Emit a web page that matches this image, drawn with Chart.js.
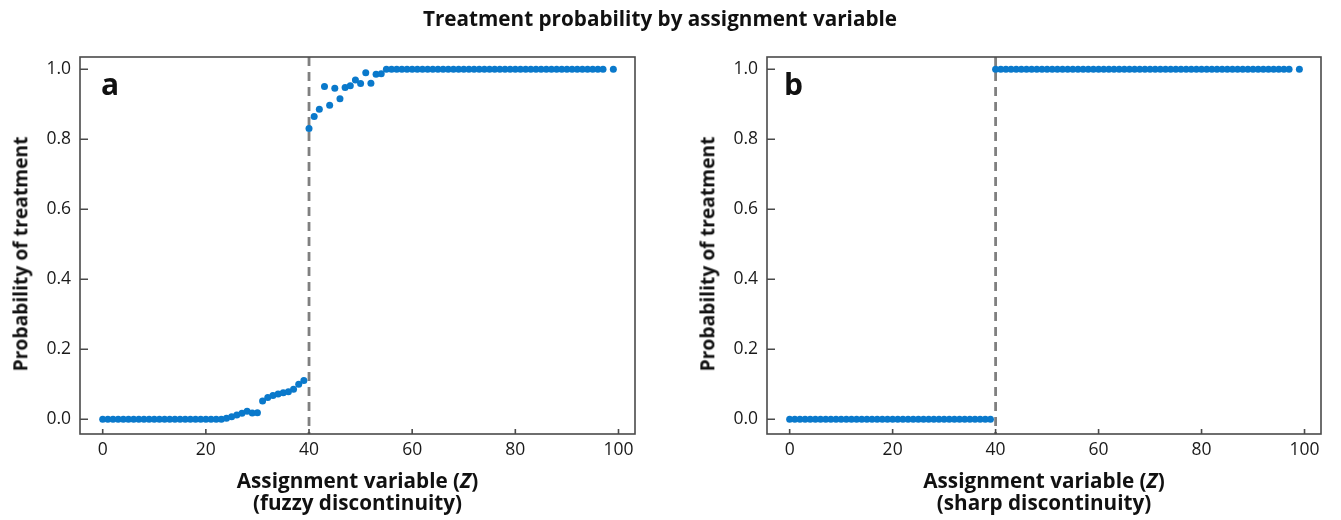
<!DOCTYPE html>
<html><head><meta charset="utf-8">
<script src="https://cdn.jsdelivr.net/npm/chart.js@4.4.1/dist/chart.umd.min.js"></script>
<style>
html,body{margin:0;padding:0;background:#fff;}
body{width:1341px;height:520px;position:relative;overflow:hidden;font-family:"Open Sans",sans-serif;color:#111;}
.panel{position:absolute;top:0;height:520px;}
.lbl{position:absolute;white-space:nowrap;font-weight:700;line-height:1;transform:translate(-50%,-50%);}
.rot{transform:translate(-50%,-50%) rotate(-90deg);}
</style></head><body>
<div class="panel" style="left:0;width:650px"><canvas id="ca"></canvas></div>
<div class="panel" style="left:680px;width:661px"><canvas id="cb"></canvas></div>
<div class="lbl" id="title" style="left:660px;top:18px">Treatment probability by assignment variable</div>
<div class="lbl rot" id="ya" style="left:20px;top:254px">Probability of treatment</div>
<div class="lbl rot" id="yb" style="left:707px;top:254px">Probability of treatment</div>
<div class="lbl" id="xa1" style="left:357.5px;top:480px">Assignment variable (<i>Z</i>)</div>
<div class="lbl" id="xa2" style="left:357.5px;top:502px">(fuzzy discontinuity)</div>
<div class="lbl" id="xb1" style="left:1044px;top:480px">Assignment variable (<i>Z</i>)</div>
<div class="lbl" id="xb2" style="left:1044px;top:502px">(sharp discontinuity)</div>
<script>
// ---- data ----
const zValues = [0,1,2,3,4,5,6,7,8,9,10,11,12,13,14,15,16,17,18,19,
  20,21,22,23,24,25,26,27,28,29,30,31,32,33,34,35,36,37,38,39,
  40,41,42,43,44,45,46,47,48,49,50,51,52,53,54,55,56,57,58,59,
  60,61,62,63,64,65,66,67,68,69,70,71,72,73,74,75,76,77,78,79,
  80,81,82,83,84,85,86,87,88,89,90,91,92,93,94,95,96,97,99];
const probFuzzy = [0,0,0,0,0,0,0,0,0,0,
  0,0,0,0,0,0,0,0,0,0,
  0,0,0,0,0.003,0.007,0.012,0.017,0.023,0.018,
  0.019,0.052,0.062,0.068,0.072,0.076,0.079,0.086,0.100,0.111,
  0.831,0.865,0.886,0.951,0.897,0.946,0.916,0.948,0.953,0.969,
  0.959,0.990,0.960,0.986,0.987,1,1,1,1,1,
  1,1,1,1,1,1,1,1,1,1,
  1,1,1,1,1,1,1,1,1,1,
  1,1,1,1,1,1,1,1,1,1,
  1,1,1,1,1,1,1,1,1];
const probSharp = [0,0,0,0,0,0,0,0,0,0,
  0,0,0,0,0,0,0,0,0,0,
  0,0,0,0,0,0,0,0,0,0,
  0,0,0,0,0,0,0,0,0,0,
  1,1,1,1,1,1,1,1,1,1,
  1,1,1,1,1,1,1,1,1,1,
  1,1,1,1,1,1,1,1,1,1,
  1,1,1,1,1,1,1,1,1,1,
  1,1,1,1,1,1,1,1,1,1,
  1,1,1,1,1,1,1,1,1];
const cutoff = 40;
const xTickValues = [0,20,40,60,80,100];
const yTickValues = [0,0.2,0.4,0.6,0.8,1.0];

// ---- fit label font sizes to reference widths ----
function fit(id, target){
  const el=document.getElementById(id);
  el.style.fontSize='20px';
  const w=el.offsetWidth;
  const s=20*target/w;
  el.style.fontSize=s+'px';
  return s;
}
fit('title',474);
fit('ya',235); fit('yb',235);
const s1=fit('xa1',242);
['xa2','xb1','xb2'].forEach(id=>document.getElementById(id).style.fontSize=s1+'px');

const framePlugin = {
  id:'frame',
  beforeDatasetsDraw(chart, args, opts){
    const {ctx, chartArea:a, scales:{x,y}} = chart;
    ctx.save();
    const cx = x.getPixelForValue(cutoff);
    ctx.strokeStyle='#808080'; ctx.lineWidth=2.8; ctx.setLineDash([9,6]);
    ctx.beginPath(); ctx.moveTo(cx,a.top); ctx.lineTo(cx,a.bottom); ctx.stroke();
    ctx.setLineDash([]);
    ctx.strokeStyle='#4a4a4a'; ctx.lineWidth=1.6;
    ctx.strokeRect(a.left,a.top,a.right-a.left,a.bottom-a.top);
    ctx.beginPath();
    x.ticks.forEach(t=>{const px=x.getPixelForValue(t.value); ctx.moveTo(px,a.bottom); ctx.lineTo(px,a.bottom-5);});
    y.ticks.forEach(t=>{const py=y.getPixelForValue(t.value); ctx.moveTo(a.left,py); ctx.lineTo(a.left+8,py);});
    ctx.stroke();
    ctx.fillStyle='#111'; ctx.font='700 30px "Open Sans"'; ctx.textBaseline='alphabetic'; ctx.textAlign='left';
    ctx.fillText(opts.letter, a.left+opts.lx, a.top+38);
    ctx.restore();
  }
};

function makeChart(id, probs, letter, lx, yWidth, rightPad){
  const pts = zValues.map((z,i)=>({x:z,y:probs[i]}));
  return new Chart(document.getElementById(id), {
    type:'scatter',
    data:{datasets:[{data:pts, backgroundColor:'#0a79cb', borderWidth:0, pointRadius:3.5, pointHoverRadius:3.5}]},
    options:{
      responsive:true, maintainAspectRatio:false, animation:false, devicePixelRatio:1,
      layout:{padding:{top:57,right:rightPad,left:0,bottom:0}},
      plugins:{legend:{display:false}, tooltip:{enabled:false}, frame:{letter:letter, lx:lx}},
      scales:{
        x:{type:'linear', min:-4.4, max:103.2,
           grid:{display:false, drawTicks:false}, border:{display:false},
           afterBuildTicks:s=>{s.ticks=xTickValues.map(v=>({value:v}));},
           afterFit:s=>{s.height=86;},
           ticks:{autoSkip:false, maxRotation:0, padding:6, color:'#1a1a1a', font:{family:'"Open Sans"', size:17.5}, callback:v=>String(v)}},
        y:{type:'linear', min:-0.042, max:1.035,
           grid:{display:false, drawTicks:false}, border:{display:false},
           afterBuildTicks:s=>{s.ticks=yTickValues.map(v=>({value:v}));},
           afterFit:s=>{s.width=yWidth;},
           ticks:{autoSkip:false, padding:9, color:'#1a1a1a', font:{family:'"Open Sans"', size:17.5}, callback:v=>Number(v).toFixed(1)}}
      }
    },
    plugins:[framePlugin]
  });
}
makeChart('ca', probFuzzy, 'a', 21, 80, 15);
makeChart('cb', probSharp, 'b', 17, 87, 20);
</script>
</body></html>
